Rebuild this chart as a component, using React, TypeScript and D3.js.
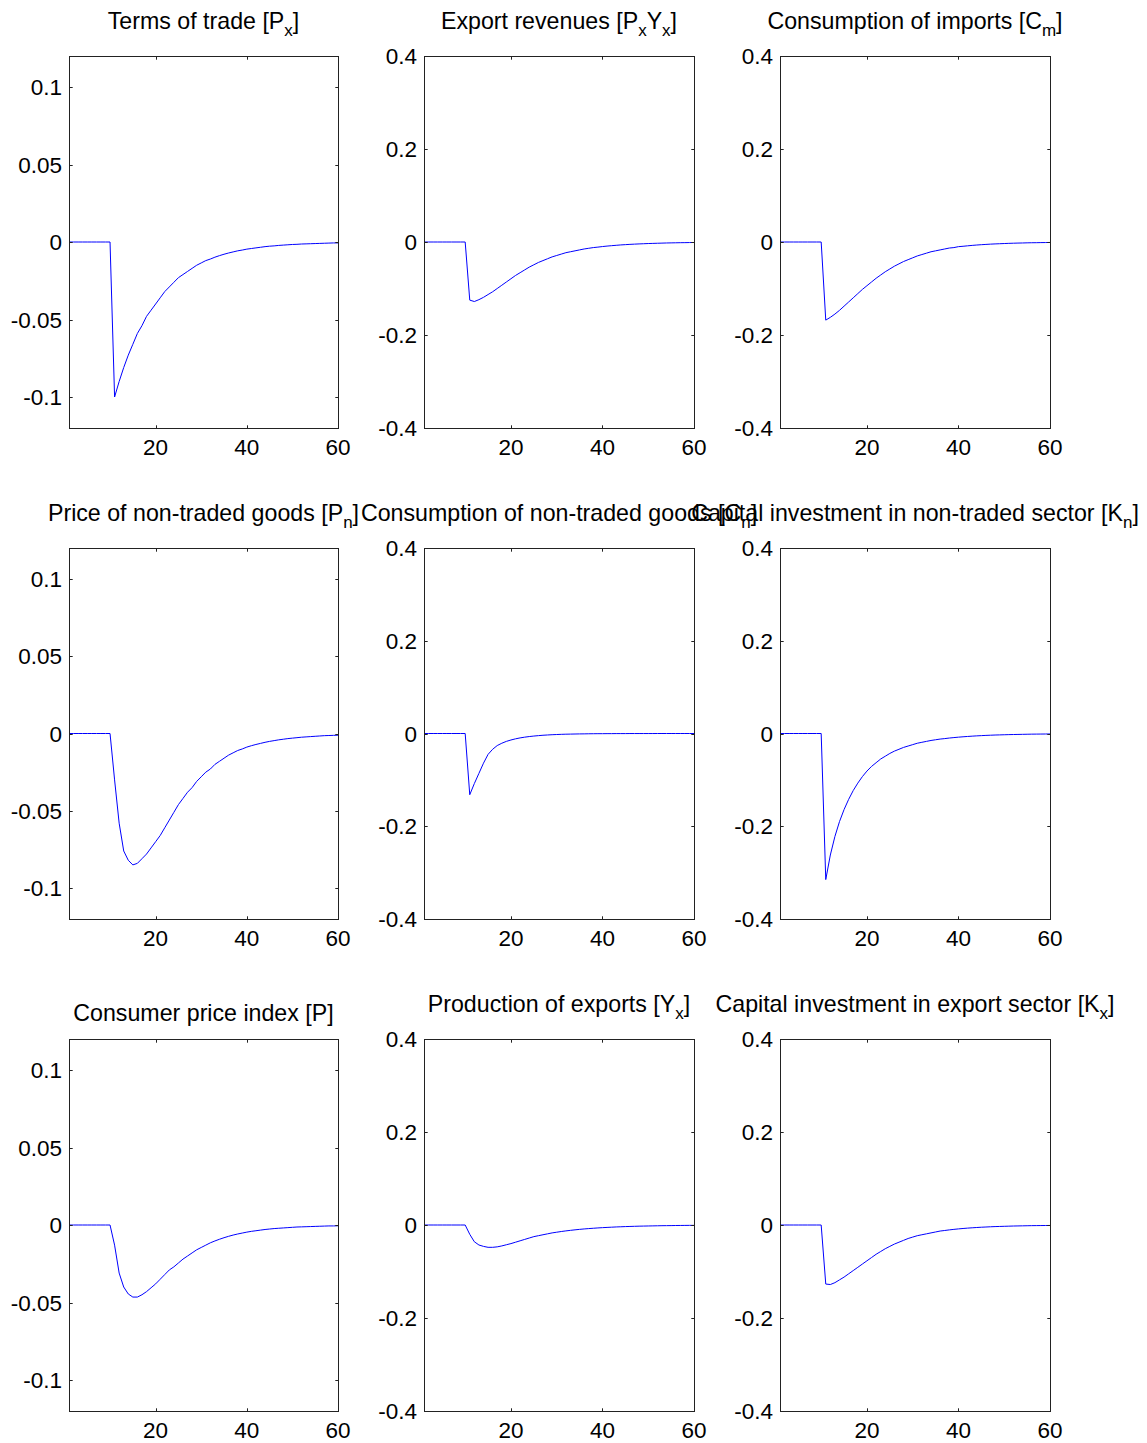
import React from "react";
import * as d3 from "d3";

// periods 1..60
const periods: number[] = d3.range(1, 61);

const termsOfTrade: number[] = [
  0, 0, 0, 0, 0, 0, 0, 0, 0, 0,
  -0.100, -0.090, -0.081, -0.073, -0.066, -0.059, -0.054, -0.048, -0.044, -0.040,
  -0.036, -0.032, -0.029, -0.026, -0.023, -0.021, -0.019, -0.017, -0.015, -0.0135,
  -0.012, -0.011, -0.0098, -0.0088, -0.0079, -0.0071, -0.0064, -0.0057, -0.0052, -0.0046,
  -0.0042, -0.0038, -0.0034, -0.0030, -0.0027, -0.0025, -0.0022, -0.0020, -0.0018, -0.0016,
  -0.0015, -0.0013, -0.0012, -0.0011, -0.0010, -0.0009, -0.0008, -0.0007, -0.0006, -0.0006,
];

const exportRevenues: number[] = [
  0, 0, 0, 0, 0, 0, 0, 0, 0, 0,
  -0.125, -0.128, -0.124, -0.119, -0.113, -0.107, -0.100, -0.093, -0.086, -0.079,
  -0.072, -0.066, -0.060, -0.054, -0.049, -0.044, -0.040, -0.036, -0.032, -0.029,
  -0.026, -0.023, -0.021, -0.019, -0.017, -0.015, -0.0135, -0.012, -0.011, -0.0098,
  -0.0088, -0.0079, -0.0071, -0.0063, -0.0057, -0.0051, -0.0046, -0.0041, -0.0037, -0.0033,
  -0.0030, -0.0027, -0.0024, -0.0021, -0.0019, -0.0017, -0.0015, -0.0014, -0.0012, -0.0011,
];

const consImports: number[] = [
  0, 0, 0, 0, 0, 0, 0, 0, 0, 0,
  -0.168, -0.162, -0.155, -0.147, -0.138, -0.129, -0.120, -0.111, -0.102, -0.094,
  -0.086, -0.078, -0.071, -0.064, -0.058, -0.052, -0.047, -0.042, -0.038, -0.034,
  -0.030, -0.027, -0.024, -0.021, -0.019, -0.017, -0.015, -0.013, -0.012, -0.010,
  -0.0092, -0.0082, -0.0073, -0.0065, -0.0058, -0.0052, -0.0046, -0.0041, -0.0037, -0.0033,
  -0.0029, -0.0026, -0.0023, -0.0021, -0.0018, -0.0016, -0.0015, -0.0013, -0.0012, -0.0010,
];

const priceNonTraded: number[] = [
  0, 0, 0, 0, 0, 0, 0, 0, 0, 0,
  -0.030, -0.058, -0.076, -0.082, -0.085, -0.084, -0.081, -0.078, -0.074, -0.070,
  -0.066, -0.061, -0.056, -0.051, -0.046, -0.042, -0.038, -0.035, -0.031, -0.028,
  -0.025, -0.023, -0.020, -0.018, -0.016, -0.014, -0.0125, -0.011, -0.010, -0.0088,
  -0.0079, -0.0071, -0.0064, -0.0057, -0.0051, -0.0046, -0.0041, -0.0037, -0.0033, -0.0030,
  -0.0027, -0.0024, -0.0022, -0.0020, -0.0018, -0.0016, -0.0014, -0.0013, -0.0012, -0.0011,
];

const consNonTraded: number[] = [
  0, 0, 0, 0, 0, 0, 0, 0, 0, 0,
  -0.132, -0.108, -0.086, -0.064, -0.045, -0.034, -0.026, -0.021, -0.017, -0.014,
  -0.0115, -0.0095, -0.0079, -0.0066, -0.0055, -0.0046, -0.0038, -0.0032, -0.0026, -0.0022,
  -0.0018, -0.0015, -0.0013, -0.0011, -0.0009, -0.0008, -0.0006, -0.0005, -0.0004, -0.0004,
  -0.0003, -0.0003, -0.0002, -0.0002, -0.0002, -0.0001, -0.0001, -0.0001, -0.0001, -0.0001,
  -0.0001, 0, 0, 0, 0, 0, 0, 0, 0, 0,
];

const capitalNonTraded: number[] = [
  0, 0, 0, 0, 0, 0, 0, 0, 0, 0,
  -0.315, -0.262, -0.222, -0.190, -0.164, -0.142, -0.123, -0.107, -0.093, -0.081,
  -0.071, -0.063, -0.055, -0.049, -0.043, -0.038, -0.034, -0.030, -0.027, -0.024,
  -0.021, -0.019, -0.017, -0.015, -0.0135, -0.012, -0.011, -0.0098, -0.0088, -0.0079,
  -0.0071, -0.0064, -0.0057, -0.0051, -0.0046, -0.0041, -0.0037, -0.0033, -0.0030, -0.0027,
  -0.0024, -0.0022, -0.0020, -0.0018, -0.0016, -0.0014, -0.0013, -0.0012, -0.0011, -0.0010,
];

const consumerPriceIndex: number[] = [
  0, 0, 0, 0, 0, 0, 0, 0, 0, 0,
  -0.013, -0.031, -0.040, -0.0445, -0.0465, -0.0465, -0.045, -0.043, -0.0405, -0.038,
  -0.035, -0.032, -0.029, -0.027, -0.0245, -0.022, -0.020, -0.018, -0.016, -0.0145,
  -0.013, -0.0115, -0.0103, -0.0092, -0.0082, -0.0073, -0.0065, -0.0058, -0.0052, -0.0046,
  -0.0041, -0.0037, -0.0033, -0.0029, -0.0026, -0.0023, -0.0021, -0.0019, -0.0017, -0.0015,
  -0.0013, -0.0012, -0.0011, -0.0010, -0.0009, -0.0008, -0.0007, -0.0006, -0.0006, -0.0005,
];

const productionExports: number[] = [
  0, 0, 0, 0, 0, 0, 0, 0, 0, 0,
  -0.020, -0.036, -0.043, -0.046, -0.048, -0.048, -0.047, -0.045, -0.0425, -0.040,
  -0.037, -0.034, -0.031, -0.028, -0.025, -0.023, -0.021, -0.019, -0.017, -0.0155,
  -0.014, -0.0127, -0.0115, -0.0104, -0.0094, -0.0085, -0.0077, -0.0070, -0.0063, -0.0057,
  -0.0052, -0.0047, -0.0042, -0.0038, -0.0034, -0.0031, -0.0028, -0.0025, -0.0023, -0.0021,
  -0.0019, -0.0017, -0.0015, -0.0014, -0.0013, -0.0011, -0.0010, -0.0009, -0.0008, -0.0008,
];

const capitalExport: number[] = [
  0, 0, 0, 0, 0, 0, 0, 0, 0, 0,
  -0.127, -0.128, -0.124, -0.118, -0.112, -0.105, -0.098, -0.091, -0.084, -0.077,
  -0.070, -0.063, -0.057, -0.051, -0.046, -0.041, -0.037, -0.033, -0.029, -0.026,
  -0.023, -0.021, -0.019, -0.017, -0.015, -0.013, -0.0118, -0.0105, -0.0094, -0.0084,
  -0.0075, -0.0067, -0.0060, -0.0054, -0.0048, -0.0043, -0.0038, -0.0034, -0.0031, -0.0028,
  -0.0025, -0.0022, -0.0020, -0.0018, -0.0016, -0.0014, -0.0013, -0.0012, -0.0011, -0.0010,
];

const xTicks: number[] = [20, 40, 60];
const yTicksSmall: number[] = [-0.1, -0.05, 0, 0.05, 0.1];
const yTicksLarge: number[] = [-0.4, -0.2, 0, 0.2, 0.4];
const yTickLabelsSmall: string[] = ["-0.1", "-0.05", "0", "0.05", "0.1"];
const yTickLabelsLarge: string[] = ["-0.4", "-0.2", "0", "0.2", "0.4"];

// title segments: [text, isSubscript]
type Seg = [string, boolean];
const titles: Seg[][] = [
  [["Terms of trade [P", false], ["x", true], ["]", false]],
  [["Export revenues [P", false], ["x", true], ["Y", false], ["x", true], ["]", false]],
  [["Consumption of imports [C", false], ["m", true], ["]", false]],
  [["Price of non-traded goods [P", false], ["n", true], ["]", false]],
  [["Consumption of non-traded goods [C", false], ["n", true], ["]", false]],
  [["Capital investment in non-traded sector [K", false], ["n", true], ["]", false]],
  [["Consumer price index [P]", false]],
  [["Production of exports [Y", false], ["x", true], ["]", false]],
  [["Capital investment in export sector [K", false], ["x", true], ["]", false]],
];

const series: number[][] = [
  termsOfTrade, exportRevenues, consImports,
  priceNonTraded, consNonTraded, capitalNonTraded,
  consumerPriceIndex, productionExports, capitalExport,
];

// layout
const colX: [number, number][] = [[69, 338], [424, 694], [780, 1050]];
const rowY: [number, number][] = [[56, 428], [548, 919], [1039, 1411]];
const FONT = "'Liberation Sans', Arial, Helvetica, sans-serif";
const FS = 22.5;
const TFS = 23.2;
const SUBFS = 17;
const TICK = 3.7;
const AXC = "#222";

function Panel({ idx }: { idx: number }) {
  const col = idx % 3;
  const row = Math.floor(idx / 3);
  const [x0, x1] = colX[col];
  const [y0, y1] = rowY[row];
  const small = col === 0;
  const yDomain: [number, number] = small ? [-0.12, 0.12] : [-0.4, 0.4];
  const yTicks = small ? yTicksSmall : yTicksLarge;
  const yLabels = small ? yTickLabelsSmall : yTickLabelsLarge;
  const xs = d3.scaleLinear().domain([1, 60]).range([x0, x1]);
  const ys = d3.scaleLinear().domain(yDomain).range([y1, y0]);
  const data = series[idx];
  const line = d3
    .line<number>()
    .x((_, i) => xs(periods[i]))
    .y((d) => ys(d));
  const segs = titles[idx];
  const hasSub = segs.some((s) => s[1]);
  const titleBase = y0 - (hasSub ? 27 : 18);
  const cx = (x0 + x1) / 2;
  return (
    <g>
      <rect x={x0 + 0.5} y={y0 + 0.5} width={x1 - x0} height={y1 - y0} fill="#fff" stroke="none" />
      <path d={line(data) || ""} fill="none" stroke="#0000ff" strokeWidth={1} />
      <rect x={x0 + 0.5} y={y0 + 0.5} width={x1 - x0} height={y1 - y0} fill="none" stroke={AXC} strokeWidth={1} />
      {yTicks.map((t, i) => {
        const y = Math.round(ys(t)) + 0.5;
        return (
          <g key={"y" + i}>
            <line x1={x0} x2={x0 + TICK} y1={y} y2={y} stroke={AXC} />
            <line x1={x1 + 1} x2={x1 + 1 - TICK} y1={y} y2={y} stroke={AXC} />
            <text x={x0 - 7} y={ys(t)} dy="0.36em" textAnchor="end" fontFamily={FONT} fontSize={FS} fill="#000">
              {yLabels[i]}
            </text>
          </g>
        );
      })}
      {xTicks.map((t, i) => {
        const x = Math.round(xs(t)) + 0.5;
        return (
          <g key={"x" + i}>
            <line x1={x} x2={x} y1={y1 + 1} y2={y1 + 1 - TICK} stroke={AXC} />
            <line x1={x} x2={x} y1={y0} y2={y0 + TICK} stroke={AXC} />
            <text x={xs(t)} y={y1 + 27} textAnchor="middle" fontFamily={FONT} fontSize={FS} fill="#000">
              {String(t)}
            </text>
          </g>
        );
      })}
      <text x={cx} y={titleBase} textAnchor="middle" fontFamily={FONT} fontSize={TFS} fill="#000">
        {segs.map((s, i) => {
          const prevSub = i > 0 && segs[i - 1][1];
          const dy = s[1] ? 7 : prevSub ? -7 : 0;
          return (
            <tspan key={i} fontSize={s[1] ? SUBFS : TFS} dy={dy}>
              {s[0]}
            </tspan>
          );
        })}
      </text>
    </g>
  );
}

export default function App() {
  return (
    <svg
      width={1147}
      height={1443}
      style={{ position: "absolute", left: 0, top: 0, background: "#fff" }}
    >
      <rect x={0} y={0} width={1147} height={1443} fill="#fff" />
      {series.map((_, i) => (
        <Panel key={i} idx={i} />
      ))}
    </svg>
  );
}
